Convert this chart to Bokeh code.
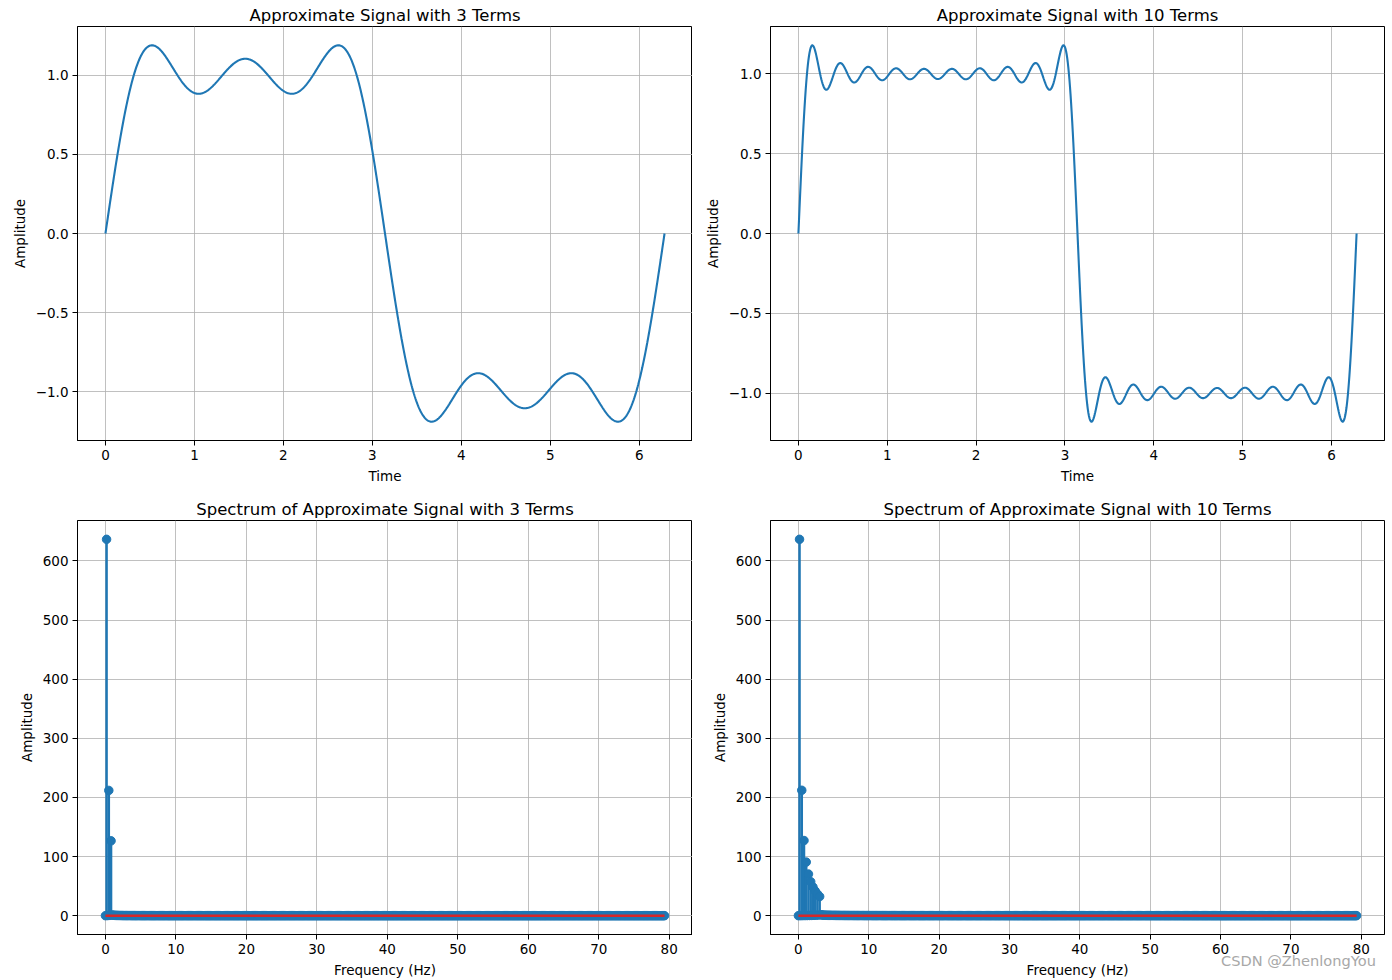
import numpy as np
from bokeh.plotting import figure
from bokeh.layouts import column, row
from bokeh.models import Range1d, FixedTicker, CustomJSTickFormatter, Div
from bokeh.embed import file_html
from bokeh.resources import INLINE

# ---------------- data ----------------
harmonic_orders = [1, 3, 5, 7, 9, 11, 13, 15, 17, 19]
spectrum_peaks_3 = [636.6, 212.2, 127.3]
spectrum_peaks_10 = [636.6, 212.2, 127.3, 90.9, 70.7, 57.9, 49.0, 42.4, 37.4, 33.5]
n_samples = 1000
t_end = 2 * np.pi

time_ticks = [0, 1, 2, 3, 4, 5, 6]
signal_ticks = [-1.0, -0.5, 0.0, 0.5, 1.0]
freq_ticks = [0, 10, 20, 30, 40, 50, 60, 70, 80]
amp_ticks = [0, 100, 200, 300, 400, 500, 600]

titles_top = ["Approximate Signal with 3 Terms", "Approximate Signal with 10 Terms"]
titles_bottom = ["Spectrum of Approximate Signal with 3 Terms",
                 "Spectrum of Approximate Signal with 10 Terms"]
watermark = "CSDN @ZhenlongYou"

C0 = "#1f77b4"
C3 = "#d62728"
FONT = "DejaVu Sans"

t = np.linspace(0, t_end, n_samples)


def synth(peaks):
    y = np.zeros_like(t)
    for k, a in zip(harmonic_orders, peaks):
        y += a / (n_samples / 2) * np.sin(k * t)
    return y


def padded(lo, hi, frac=0.05):
    s = hi - lo
    return Range1d(lo - frac * s, hi + frac * s)


minus_fmt = CustomJSTickFormatter(
    code="return (tick < 0 ? '\\u2212' : '') + Math.abs(tick).toFixed(1);")


def style(p, xlabel, ylabel, xticks, yticks, yfmt=None):
    p.outline_line_color = "black"
    p.outline_line_width = 1
    p.outline_line_alpha = 1
    p.title.text_font = FONT
    p.title.text_font_size = "16.5px"
    p.title.text_font_style = "normal"
    p.title.text_color = "black"
    p.title.align = "center"
    p.title.standoff = 4
    p.xaxis.axis_label = xlabel
    p.yaxis.axis_label = ylabel
    p.xaxis.ticker = FixedTicker(ticks=xticks)
    p.yaxis.ticker = FixedTicker(ticks=yticks)
    if yfmt is not None:
        p.yaxis.formatter = yfmt
    for ax in (p.xaxis, p.yaxis):
        ax.axis_line_color = "black"
        ax.axis_line_width = 1
        ax.major_tick_line_color = "black"
        ax.major_tick_out = 5
        ax.major_tick_in = 0
        ax.minor_tick_line_color = None
        ax.major_label_text_font = FONT
        ax.major_label_text_font_size = "13.5px"
        ax.major_label_text_color = "black"
        ax.major_label_standoff = 4
        ax.axis_label_text_font = FONT
        ax.axis_label_text_font_size = "13.5px"
        ax.axis_label_text_font_style = "normal"
        ax.axis_label_text_color = "black"
        ax.axis_label_standoff = 5
    p.grid.grid_line_color = "#b0b0b0"
    p.grid.grid_line_width = 0.8
    p.background_fill_color = "white"
    p.border_fill_color = "white"


figs_top = []
for i, peaks in enumerate([spectrum_peaks_3, spectrum_peaks_10]):
    y = synth(peaks)
    left = i == 0
    p = figure(
        frame_width=615 if left else 614, frame_height=414,
        min_border_left=77 if left else 78, min_border_right=0 if left else 8,
        min_border_top=26, min_border_bottom=45,
        x_range=padded(t.min(), t.max()), y_range=padded(y.min(), y.max()),
        title=titles_top[i], output_backend="svg", toolbar_location=None)
    p.line(t, y, line_color=C0, line_width=2.1)
    style(p, "Time", "Amplitude", time_ticks, signal_ticks, minus_fmt)
    figs_top.append(p)

fs = (n_samples - 1) / t_end
freqs = np.arange(n_samples // 2) * fs / n_samples

figs_bottom = []
for i, peaks in enumerate([spectrum_peaks_3, spectrum_peaks_10]):
    y = synth(peaks)
    mags = np.abs(np.fft.fft(y))[: n_samples // 2]
    left = i == 0
    p = figure(
        frame_width=615 if left else 614, frame_height=414,
        min_border_left=77 if left else 78, min_border_right=0 if left else 8,
        min_border_top=34, min_border_bottom=47,
        x_range=padded(freqs.min(), freqs.max()), y_range=padded(0, mags.max()),
        title=titles_bottom[i], output_backend="svg", toolbar_location=None)
    p.segment(x0=freqs, y0=np.zeros_like(mags), x1=freqs, y1=mags,
              line_color=C0, line_width=2.5)
    p.scatter(freqs, mags, size=8.5, color=C0)
    p.line([freqs.min(), freqs.max()], [0, 0], line_color=C3, line_width=2.5)
    style(p, "Frequency (Hz)", "Amplitude", freq_ticks, amp_ticks)
    figs_bottom.append(p)

# watermark overlapping the bottom margin (annotations are clipped to the frame)
wm = Div(text=watermark, width=165, height=20, margin=(-30, 0, 0, 1221),
         styles={"color": "#a8a8a8", "font-family": FONT, "font-size": "14.6px",
                 "line-height": "20px", "white-space": "nowrap"})

layout = column(row(*figs_top), row(*figs_bottom), wm)
open("out.html", "w").write(file_html(layout, INLINE))
